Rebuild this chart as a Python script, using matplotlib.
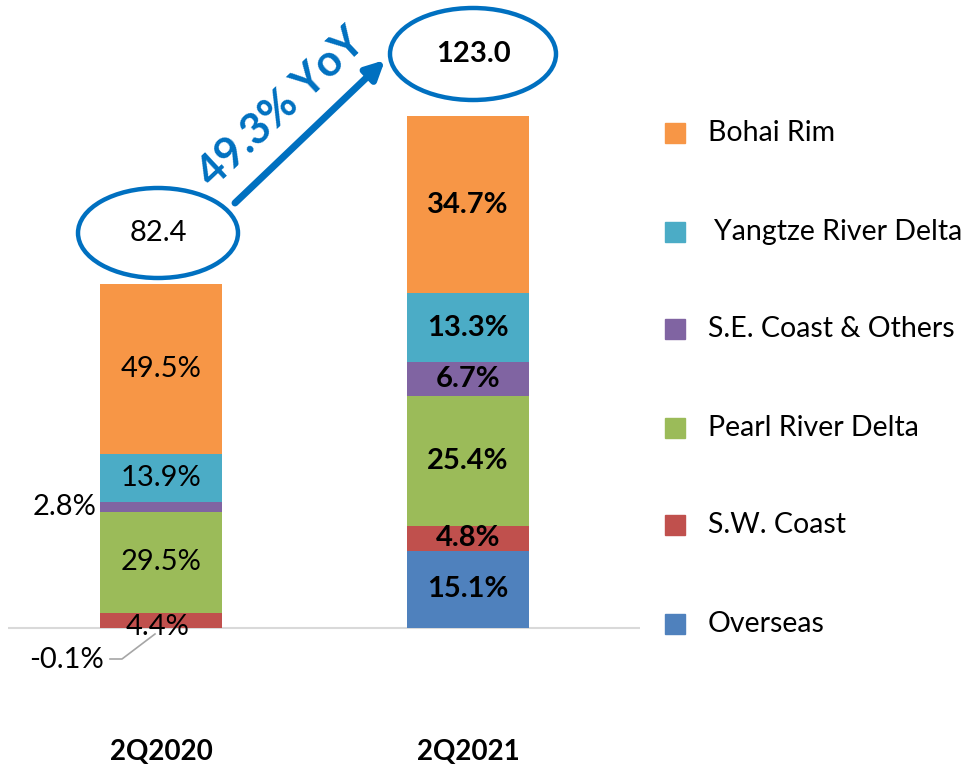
import matplotlib
matplotlib.use('Agg')
import matplotlib.pyplot as plt
from matplotlib.patches import Ellipse, Rectangle

plt.rcParams['font.family'] = ['Lato', 'DejaVu Sans']

# data
periods = ['2Q2020', '2Q2021']
totals = [82.4, 123.0]
regions = ['Overseas', 'S.W. Coast', 'Pearl River Delta',
           'S.E. Coast & Others', 'Yangtze River Delta', 'Bohai Rim']
shares_2020 = [-0.1, 4.4, 29.5, 2.8, 13.9, 49.5]
shares_2021 = [15.1, 4.8, 25.4, 6.7, 13.3, 34.7]
colors = ['#4F81BD', '#C0504D', '#9BBB59', '#8064A2', '#4BACC6', '#F79646']
yoy_label = '49.3% YoY'

BLUE = '#0070C0'
W, H = 964, 770
PX_PER_X = 307.0    # pixels between bar centres
PX_PER_Y = 4.165    # pixels per unit of value
X0, BASE = 161, 628  # pixel position of first bar centre / zero line


def px(x, y):
    """pixel position -> data coords"""
    return (x - X0) / PX_PER_X, (BASE - y) / PX_PER_Y


fig = plt.figure(figsize=(W / 100, H / 100), dpi=100)
ax = fig.add_axes([8 / W, 0, 632 / W, 1])
ax.set_xlim(px(8, 0)[0], px(640, 0)[0])
ax.set_ylim(px(0, H)[1], px(0, 0)[1])
ax.axis('off')
ax.axhline(0, color='#d9d9d9', lw=1.5, zorder=1)

width = 122 / PX_PER_X
weights = ['normal', 'bold']
for i, (shares, total) in enumerate(zip([shares_2020, shares_2021], totals)):
    pos, neg = 0.0, 0.0
    for j, share in enumerate(shares):
        v = share * total / 100
        if v >= 0:
            bottom = pos
            pos += v
        else:
            bottom = neg
            neg += v
        ax.bar(i, v, width, bottom=bottom, color=colors[j], zorder=2)
        lx, ly, ha = i, bottom + v / 2, 'center'
        if i == 0 and regions[j] == 'S.E. Coast & Others':
            lx, ha = px(96, 0)[0], 'right'
        elif i == 0 and regions[j] == 'S.W. Coast':
            lx, ly = px(158, 627)
        elif i == 0 and regions[j] == 'Overseas':
            lx, ly = px(104, 660)
            ha = 'right'
            lp = [px(110, 659), px(122, 659), px(155, 634)]
            ax.plot([p[0] for p in lp], [p[1] for p in lp], color='#a6a6a6', lw=1.2, zorder=3)
        ax.text(lx, ly, f'{share:.1f}%', ha=ha, va='center', fontsize=21,
                fontweight=weights[i], zorder=4)
    ax.text(i, px(0, 752)[1], periods[i], ha='center', va='center',
            fontsize=20, fontweight='bold')

# total bubbles
bubbles = [((158, 233), 160, 90), ((473, 54), 166, 92)]
for i, ((cx, cy), ew, eh) in enumerate(bubbles):
    c = px(cx, cy)
    ax.add_patch(Ellipse(c, ew / PX_PER_X, eh / PX_PER_Y, fill=False,
                         edgecolor=BLUE, lw=3.2, zorder=5))
    ax.text(c[0], c[1], f'{totals[i]:.1f}', ha='center', va='center',
            fontsize=21, fontweight=weights[i], zorder=6)

# growth arrow
ax.annotate('', xy=px(385, 60), xytext=px(235, 203),
            arrowprops=dict(arrowstyle='-|>,head_length=1.1,head_width=0.55',
                            lw=5, color=BLUE, shrinkA=0, shrinkB=0))
ax.text(*px(281, 108), yoy_label, rotation=43, ha='center', va='center',
        fontsize=31, fontweight='bold', color=BLUE, rotation_mode='anchor')

# legend
leg_y = [624, 525, 428, 329, 232, 133]
for j, region in enumerate(regions):
    y = leg_y[j]
    fig.patches.append(Rectangle((665 / W, 1 - (y + 10) / H), 20 / W, 20 / H,
                                 transform=fig.transFigure, color=colors[j]))
    tx = 714 if region == 'Yangtze River Delta' else 708
    fig.text(tx / W, 1 - y / H, region, ha='left', va='center', fontsize=20.5)

fig.savefig('out.png', dpi=100)
